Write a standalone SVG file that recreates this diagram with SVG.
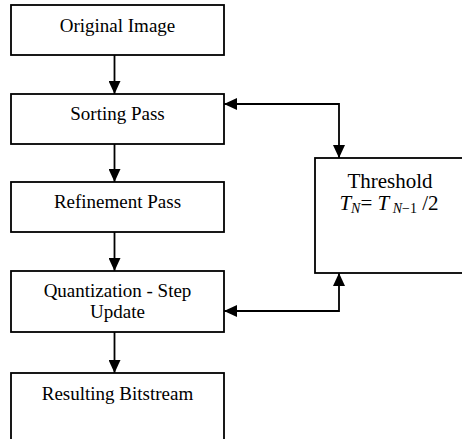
<svg xmlns="http://www.w3.org/2000/svg" width="462" height="439" viewBox="0 0 462 439">
  <style>
    .box { fill: #ffffff; stroke: #000000; stroke-width: 1.8; }
    .lbl { font-family: "Liberation Serif", "Times New Roman", serif; font-size: 19px; fill: #000000; text-anchor: middle; }
    .big { font-size: 21px; }
    .it { font-style: italic; }
    .wire { fill: none; stroke: #000000; stroke-width: 1.8; }
  </style>
  <defs>
    <marker id="head" markerUnits="userSpaceOnUse" markerWidth="13" markerHeight="12" refX="13" refY="6" orient="auto-start-reverse">
      <path d="M0,0 L13,6 L0,12 z" fill="#000000"/>
    </marker>
  </defs>
  <rect width="462" height="439" fill="#ffffff"/>

  <g id="original-image">
    <rect class="box" x="11" y="5" width="213" height="50"/>
    <text class="lbl" x="117.5" y="32">Original Image</text>
  </g>
  <g id="sorting-pass">
    <rect class="box" x="11" y="94" width="213" height="50"/>
    <text class="lbl" x="117.5" y="120">Sorting Pass</text>
  </g>
  <g id="refinement-pass">
    <rect class="box" x="11" y="182" width="213" height="50"/>
    <text class="lbl" x="117.5" y="208">Refinement Pass</text>
  </g>
  <g id="quantization-step-update">
    <rect class="box" x="11" y="271" width="213" height="61"/>
    <text class="lbl" x="117.5" y="297">Quantization - Step</text>
    <text class="lbl" x="117.5" y="318">Update</text>
  </g>
  <g id="resulting-bitstream">
    <rect class="box" x="11" y="373" width="213" height="90"/>
    <text class="lbl" x="117.5" y="400">Resulting Bitstream</text>
  </g>
  <g id="threshold">
    <rect class="box" x="315" y="158" width="170" height="115"/>
    <text class="lbl big" x="390" y="188">Threshold</text>
    <text class="lbl big" x="389" y="210"><tspan class="it">T</tspan><tspan class="it" font-size="14" dy="3">N</tspan><tspan dy="-3">= </tspan><tspan class="it">T</tspan><tspan class="it" font-size="14" dy="3"> N</tspan><tspan font-size="14">−1</tspan><tspan dy="-3"> /2</tspan></text>
  </g>

  <g id="connectors">
    <line class="wire" x1="114.5" y1="55" x2="114.5" y2="94" marker-end="url(#head)"/>
    <line class="wire" x1="114.5" y1="144" x2="114.5" y2="182" marker-end="url(#head)"/>
    <line class="wire" x1="114.5" y1="232" x2="114.5" y2="271" marker-end="url(#head)"/>
    <line class="wire" x1="114.5" y1="332" x2="114.5" y2="373" marker-end="url(#head)"/>
    <path class="wire" d="M339,158 L339,104 L224,104" marker-start="url(#head)" marker-end="url(#head)"/>
    <path class="wire" d="M339,273 L339,311 L224,311" marker-start="url(#head)" marker-end="url(#head)"/>
  </g>
</svg>
